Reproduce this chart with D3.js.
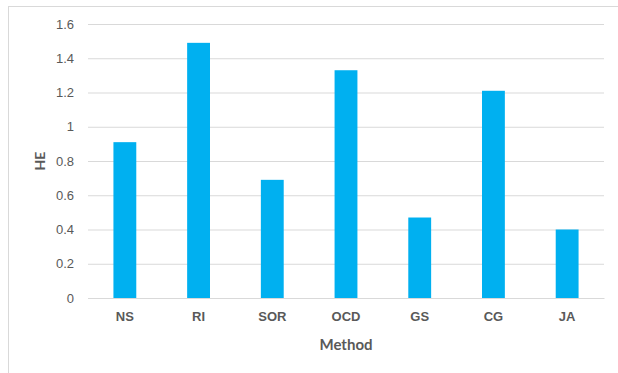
<!DOCTYPE html>
<html>
<head>
<meta charset="utf-8">
<script src="https://cdn.jsdelivr.net/npm/d3@7"></script>
<style>
  html, body { margin: 0; padding: 0; background: #fff; }
  svg { display: block; font-family: Lato, "Open Sans", sans-serif; }
</style>
</head>
<body>
<svg id="chart" width="618" height="373"></svg>
<script>
// Heuristic efficiency (HE) per solution method
const methods = ["NS", "RI", "SOR", "OCD", "GS", "CG", "JA"];
const heValues = [0.91, 1.49, 0.69, 1.33, 0.47, 1.21, 0.40];
const yTicks = [0, 0.2, 0.4, 0.6, 0.8, 1, 1.2, 1.4, 1.6];

const svg = d3.select("#chart");
const margin = { left: 88, right: 14, top: 24, bottom: 75 };
const W = 618, H = 373;

// outer chart frame
svg.append("rect")
  .attr("x", 8.5).attr("y", 6.5)
  .attr("width", 640).attr("height", 400)
  .attr("fill", "none").attr("stroke", "#d9d9d9").attr("stroke-width", 1);

const x = d3.scaleBand()
  .domain(methods)
  .range([margin.left, W - margin.right])
  .paddingInner(0.69).paddingOuter(0.345);

const y = d3.scaleLinear()
  .domain([0, 1.6])
  .range([H - margin.bottom, margin.top]);

// horizontal gridlines
const yAxis = d3.axisLeft(y).tickValues(yTicks)
  .tickFormat(d => d3.format("")(d))
  .tickSize(-(W - margin.right - margin.left)).tickPadding(14);
const gy = svg.append("g")
  .attr("transform", `translate(${margin.left},0)`)
  .call(yAxis);
gy.select(".domain").remove();
gy.selectAll(".tick line").attr("stroke", "#d9d9d9").attr("stroke-width", 1);
gy.selectAll(".tick text")
  .attr("fill", "#595959").attr("font-size", 13);

// bars
svg.append("g").selectAll("rect")
  .data(methods.map((m, i) => ({ m, v: heValues[i] })))
  .join("rect")
  .attr("x", d => x(d.m))
  .attr("width", x.bandwidth())
  .attr("y", d => y(d.v))
  .attr("height", d => y(0) - y(d.v))
  .attr("fill", "#00b0f0");

// category axis
const gx = svg.append("g")
  .attr("transform", `translate(0,${y(0)})`)
  .call(d3.axisBottom(x).tickSize(0).tickPadding(14));
gx.select(".domain").attr("stroke", "#d9d9d9");
gx.selectAll(".tick text")
  .attr("fill", "#595959").attr("font-size", 13).attr("font-weight", "bold");

// axis titles
svg.append("text")
  .attr("x", (margin.left + W - margin.right) / 2)
  .attr("y", 350)
  .attr("text-anchor", "middle")
  .attr("fill", "#595959").attr("font-size", 15).attr("font-weight", "bold")
  .text("Method");

svg.append("text")
  .attr("transform", `translate(45,${(y(0) + y(1.6)) / 2}) rotate(-90)`)
  .attr("text-anchor", "middle")
  .attr("fill", "#595959").attr("font-size", 14).attr("font-weight", "bold")
  .text("HE");
</script>
</body>
</html>
